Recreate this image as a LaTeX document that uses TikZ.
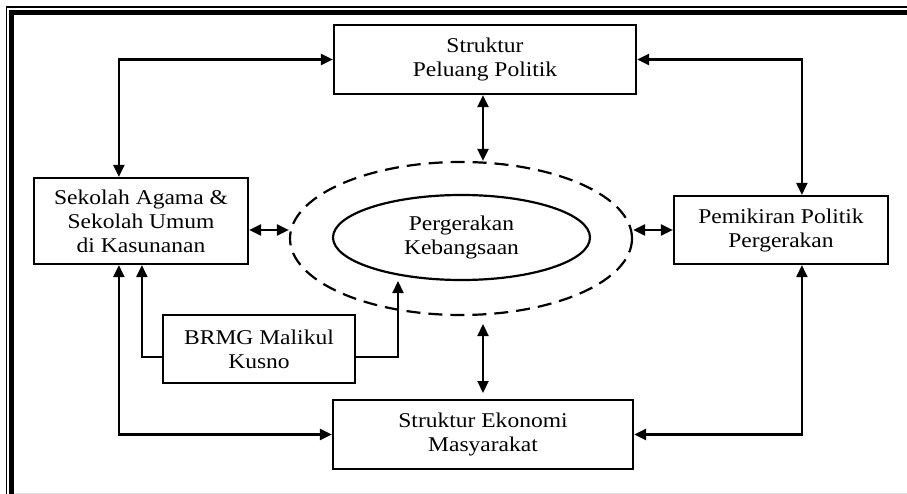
\documentclass[tikz,border=0pt]{standalone}
\usepackage{fontspec}
\setmainfont{Liberation Serif}[FakeStretch=1.12]
\usetikzlibrary{shapes.geometric,arrows.meta,calc}
\tikzset{
  box/.style={draw, line width=2.2pt, rectangle, inner sep=0pt, align=center,
    font=\fontsize{21}{24}\selectfont},
  ell/.style={draw, ellipse, inner sep=0pt, align=center,
    font=\fontsize{21}{24}\selectfont},
  con/.style={line width=2.2pt, {Triangle[length=12pt,width=11pt]}-{Triangle[length=12pt,width=11pt]}},
  con1/.style={line width=2.2pt, -{Triangle[length=12pt,width=11pt]}},
}
\begin{document}
\begin{tikzpicture}[x=1pt,y=-1pt]
\useasboundingbox (0,0) rectangle (907,494);
\fill[white] (0,0) rectangle (907,494);
% frame
\draw[line width=1.4pt] (6.5,494) -- (6.5,7.2) -- (907,7.2);
\draw[line width=4.6pt] (11.3,494) -- (11.3,12.6) -- (907,12.6);
\draw[line width=1pt, black!12] (14,493) -- (907,493);

% nodes
\node[box, minimum width=302pt, minimum height=69pt] (struk) at (485,59.5) {Struktur\\Peluang Politik};
\node[box, minimum width=214pt, minimum height=86pt] (sek) at (141,221) {Sekolah Agama \&\\Sekolah Umum\\di Kasunanan};
\node[box, minimum width=214pt, minimum height=68pt] (pem) at (781,230) {Pemikiran Politik\\Pergerakan};
\node[box, minimum width=192pt, minimum height=68pt] (brmg) at (259,349) {BRMG Malikul\\Kusno};
\node[box, minimum width=300pt, minimum height=69pt] (eko) at (483,434.5) {Struktur Ekonomi\\Masyarakat};
\node[ell, line width=2.2pt, minimum width=342pt, minimum height=153pt, dash pattern=on 14pt off 8pt] (outer) at (461,238.5) {};
\node[ell, line width=2.2pt, minimum width=257pt, minimum height=85pt] (inner) at (461.5,237.5) {Pergerakan\\Kebangsaan};

\coordinate (k) at (398,281);
\coordinate (b1) at (483,324);
\coordinate (b2) at (483,393);

% connectors
\draw[con] (struk.west) -| ([xshift=86pt]sek.north west);
\draw[con] (struk.east) -| ([xshift=129pt]pem.north west);
\draw[con] ([xshift=-2pt]struk.south) -- ([xshift=-2pt]struk.south |- outer.north);
\draw[con] ([yshift=-9pt]sek.east) -- ([yshift=-9pt]sek.east -| outer.west);
\draw[con] (pem.west) -- (pem.west -| outer.east);
\draw[con] ([xshift=86pt]sek.south west) |- (eko.west);
\draw[con] ([xshift=129pt]pem.south west) |- (eko.east);
\draw[con1] ([yshift=-8pt]brmg.west) -| ([xshift=109pt]sek.south west);
\draw[con1] ([yshift=-8pt]brmg.east) -| (k);
\draw[con] (b1) -- (b2);
\end{tikzpicture}
\end{document}
